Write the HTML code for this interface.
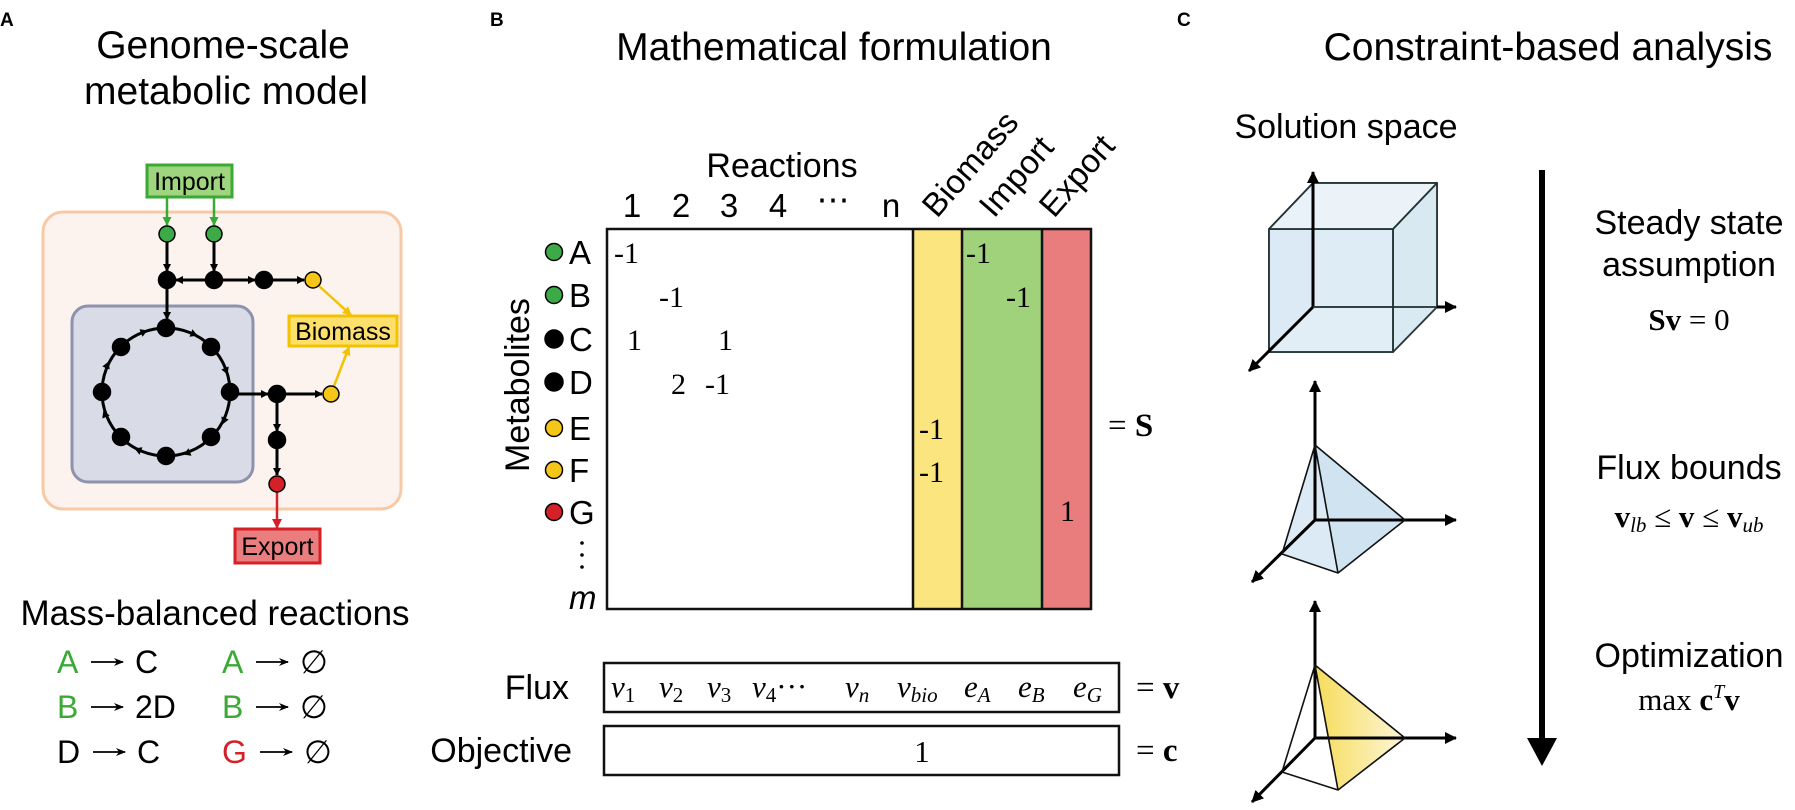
<!DOCTYPE html>
<html><head><meta charset="utf-8"><style>
html,body{margin:0;padding:0;background:#fff}
svg{display:block}
.s{font-family:"Liberation Sans",sans-serif}
.m{font-family:"Liberation Serif",serif}
</style></head><body>
<svg width="1795" height="810" viewBox="0 0 1795 810" xmlns="http://www.w3.org/2000/svg">
<defs>
<marker id="ak" markerWidth="8" markerHeight="8" refX="7" refY="4" orient="auto" markerUnits="userSpaceOnUse"><path d="M0,0 L8,4 L0,8 z" fill="#000"/></marker>
<marker id="ag" markerWidth="9" markerHeight="9" refX="8" refY="4.5" orient="auto" markerUnits="userSpaceOnUse"><path d="M0,0 L9,4.5 L0,9 z" fill="#3aaa35"/></marker>
<marker id="ay" markerWidth="9" markerHeight="9" refX="8" refY="4.5" orient="auto" markerUnits="userSpaceOnUse"><path d="M0,0 L9,4.5 L0,9 z" fill="#f2c200"/></marker>
<marker id="ar" markerWidth="10" markerHeight="10" refX="9" refY="5" orient="auto" markerUnits="userSpaceOnUse"><path d="M0,0 L10,5 L0,10 z" fill="#d42027"/></marker>
<marker id="ab" markerWidth="12" markerHeight="12" refX="11" refY="6" orient="auto" markerUnits="userSpaceOnUse"><path d="M0,0 L12,6 L0,12 z" fill="#000"/></marker>
<marker id="at" markerWidth="10" markerHeight="8" refX="9" refY="4" orient="auto" markerUnits="userSpaceOnUse"><path d="M0,0 L10,4 L0,8 L3,4 z" fill="#000"/></marker>
<linearGradient id="yg" x1="0" y1="0" x2="1" y2="0"><stop offset="0" stop-color="#f6dc5a"/><stop offset="1" stop-color="#fdf6d8"/></linearGradient>
</defs>

<!-- Panel labels -->
<text x="0" y="26" class="s" font-size="19" font-weight="bold">A</text>
<text x="490" y="26" class="s" font-size="19" font-weight="bold">B</text>
<text x="1177" y="26" class="s" font-size="19" font-weight="bold">C</text>

<!-- Panel A -->
<text x="223" y="58" class="s" font-size="39" text-anchor="middle">Genome-scale</text>
<text x="226" y="104" class="s" font-size="39" text-anchor="middle">metabolic model</text>

<rect x="43" y="212" width="358" height="297" rx="20" fill="#fdf3ee" stroke="#f8c9a5" stroke-width="3"/>
<rect x="72" y="306" width="181" height="176" rx="16" fill="#d9dbe6" stroke="#8e92ad" stroke-width="3"/>

<rect x="147" y="165" width="85" height="32" fill="#9fd57e" stroke="#3aaa35" stroke-width="3"/>
<text x="189.5" y="190" class="s" font-size="25" text-anchor="middle">Import</text>
<rect x="289" y="316" width="108" height="30" fill="#fde06b" stroke="#f2c200" stroke-width="3"/>
<text x="343" y="340" class="s" font-size="25" text-anchor="middle">Biomass</text>
<rect x="235" y="529" width="85" height="34" fill="#ea7d7d" stroke="#d42027" stroke-width="3"/>
<text x="277.5" y="555" class="s" font-size="25" text-anchor="middle">Export</text>

<g stroke-width="2.5" fill="none">
<line x1="167" y1="197" x2="167" y2="225" stroke="#3aaa35" marker-end="url(#ag)"/>
<line x1="214" y1="197" x2="214" y2="225" stroke="#3aaa35" marker-end="url(#ag)"/>
<g stroke="#000" stroke-width="3">
<line x1="167" y1="242" x2="167" y2="271" marker-end="url(#ak)"/>
<line x1="214" y1="242" x2="214" y2="271" marker-end="url(#ak)"/>
<line x1="206" y1="280" x2="176" y2="280" marker-end="url(#ak)"/>
<line x1="222" y1="280" x2="255" y2="280" marker-end="url(#ak)"/>
<line x1="272" y1="280" x2="304" y2="280" marker-end="url(#ak)"/>
<line x1="167" y1="288" x2="167" y2="319" marker-end="url(#ak)"/>
<circle cx="166" cy="392" r="64"/>
<line x1="237" y1="394" x2="268" y2="394" marker-end="url(#ak)"/>
<line x1="285" y1="394" x2="322" y2="394" marker-end="url(#ak)"/>
<line x1="277" y1="402" x2="277" y2="431" marker-end="url(#ak)"/>
<line x1="277" y1="448" x2="277" y2="475" marker-end="url(#ak)"/>
</g>
<line x1="277" y1="492" x2="277" y2="528" stroke="#d42027" marker-end="url(#ar)"/>
<line x1="319" y1="286" x2="351" y2="315" stroke="#f2c200" marker-end="url(#ay)"/>
<line x1="334" y1="386" x2="349" y2="347" stroke="#f2c200" marker-end="url(#ay)"/>
</g>
<g fill="#000">
<path d="M0,-4 L7,0 L0,4z" transform="translate(191,333) rotate(22)"/>
<path d="M0,-4 L7,0 L0,4z" transform="translate(225,368) rotate(68)"/>
<path d="M0,-4 L7,0 L0,4z" transform="translate(225,418) rotate(112)"/>
<path d="M0,-4 L7,0 L0,4z" transform="translate(190,452) rotate(158)"/>
<path d="M0,-4 L7,0 L0,4z" transform="translate(141,451) rotate(202)"/>
<path d="M0,-4 L7,0 L0,4z" transform="translate(106,417) rotate(248)"/>
<path d="M0,-4 L7,0 L0,4z" transform="translate(106,368) rotate(292)"/>
<path d="M0,-4 L7,0 L0,4z" transform="translate(141,333) rotate(338)"/>
</g>
<g stroke="#000" stroke-width="1.5">
<circle cx="167" cy="234" r="8" fill="#3cab47"/>
<circle cx="214" cy="234" r="8" fill="#3cab47"/>
<circle cx="167" cy="280" r="8.5" fill="#000"/>
<circle cx="214" cy="280" r="8.5" fill="#000"/>
<circle cx="264" cy="280" r="8.5" fill="#000"/>
<circle cx="313" cy="280" r="8" fill="#f5c518"/>
<circle cx="166" cy="328" r="8.5" fill="#000"/>
<circle cx="211" cy="347" r="8.5" fill="#000"/>
<circle cx="230" cy="392" r="8.5" fill="#000"/>
<circle cx="211" cy="437" r="8.5" fill="#000"/>
<circle cx="166" cy="456" r="8.5" fill="#000"/>
<circle cx="121" cy="437" r="8.5" fill="#000"/>
<circle cx="102" cy="392" r="8.5" fill="#000"/>
<circle cx="121" cy="347" r="8.5" fill="#000"/>
<circle cx="277" cy="394" r="8.5" fill="#000"/>
<circle cx="331" cy="394" r="8" fill="#f5c518"/>
<circle cx="277" cy="440" r="8.5" fill="#000"/>
<circle cx="277" cy="484" r="8" fill="#d42027"/>
</g>

<text x="215" y="625" class="s" font-size="35" text-anchor="middle">Mass-balanced reactions</text>
<g class="s" font-size="32">
<text x="57" y="673" fill="#3aaa35">A</text><text x="135" y="673">C</text>
<text x="57" y="718" fill="#3aaa35">B</text><text x="135" y="718">2D</text>
<text x="57" y="763">D</text><text x="137" y="763">C</text>
<text x="222" y="673" fill="#3aaa35">A</text>
<text x="222" y="718" fill="#3aaa35">B</text>
<text x="222" y="763" fill="#d42027">G</text>
</g>
<g class="m" font-size="32">
<text x="300" y="673">∅</text><text x="300" y="718">∅</text><text x="304" y="763">∅</text>
</g>
<g stroke="#000" stroke-width="1.8">
<line x1="91" y1="662" x2="123" y2="662" marker-end="url(#at)"/>
<line x1="91" y1="707" x2="123" y2="707" marker-end="url(#at)"/>
<line x1="93" y1="752" x2="125" y2="752" marker-end="url(#at)"/>
<line x1="256" y1="662" x2="288" y2="662" marker-end="url(#at)"/>
<line x1="256" y1="707" x2="288" y2="707" marker-end="url(#at)"/>
<line x1="260" y1="752" x2="292" y2="752" marker-end="url(#at)"/>
</g>

<!-- Panel B -->
<text x="834" y="60" class="s" font-size="39" text-anchor="middle">Mathematical formulation</text>
<text x="782" y="177" class="s" font-size="34" text-anchor="middle">Reactions</text>
<g class="s" font-size="33" text-anchor="middle">
<text x="632" y="217">1</text><text x="681" y="217">2</text><text x="729" y="217">3</text><text x="778" y="217">4</text><text x="833" y="211">⋯</text><text x="891" y="217">n</text>
</g>
<g class="s" font-size="33">
<text transform="translate(937,219) rotate(-49)">Biomass</text>
<text transform="translate(994,219) rotate(-49)">Import</text>
<text transform="translate(1054,219) rotate(-49)">Export</text>
</g>

<rect x="607" y="229" width="306" height="380" fill="#fff"/>
<rect x="913" y="229" width="49" height="380" fill="#fbe57f"/>
<rect x="962" y="229" width="80" height="380" fill="#9fd27b"/>
<rect x="1042" y="229" width="49" height="380" fill="#e97c7c"/>
<g stroke="#111" stroke-width="2.5" fill="none">
<rect x="607" y="229" width="484" height="380"/>
<line x1="913" y1="229" x2="913" y2="609"/>
<line x1="962" y1="229" x2="962" y2="609"/>
<line x1="1042" y1="229" x2="1042" y2="609"/>
</g>

<g class="m" font-size="30">
<text x="614" y="263">-1</text>
<text x="659" y="307">-1</text>
<text x="627" y="350">1</text><text x="718" y="350">1</text>
<text x="671" y="394">2</text><text x="705" y="394">-1</text>
<text x="919" y="439">-1</text>
<text x="919" y="482">-1</text>
<text x="966" y="263">-1</text>
<text x="1006" y="307">-1</text>
<text x="1060" y="521">1</text>
</g>

<text transform="translate(529,385) rotate(-90)" class="s" font-size="34" text-anchor="middle">Metabolites</text>
<g stroke="#000" stroke-width="1.5">
<circle cx="554" cy="252" r="8.5" fill="#3cab47"/>
<circle cx="554" cy="295" r="8.5" fill="#3cab47"/>
<circle cx="554" cy="339" r="9" fill="#000"/>
<circle cx="554" cy="382" r="9" fill="#000"/>
<circle cx="554" cy="428" r="8.5" fill="#f5c518"/>
<circle cx="554" cy="470" r="8.5" fill="#f5c518"/>
<circle cx="554" cy="512" r="8.5" fill="#d42027"/>
</g>
<g class="s" font-size="33">
<text x="569" y="264">A</text>
<text x="569" y="307">B</text>
<text x="569" y="351">C</text>
<text x="569" y="394">D</text>
<text x="569" y="440">E</text>
<text x="569" y="482">F</text>
<text x="569" y="524">G</text>
</g>
<g fill="#000"><circle cx="582" cy="543" r="1.8"/><circle cx="582" cy="555" r="1.8"/><circle cx="582" cy="567" r="1.8"/></g>
<text x="569" y="609" class="s" font-size="33" font-style="italic">m</text>
<text x="1108" y="436" class="m" font-size="33">= <tspan font-weight="bold">S</tspan></text>

<rect x="604" y="663" width="515" height="49" fill="#fff" stroke="#111" stroke-width="2.5"/>
<rect x="604" y="726" width="515" height="49" fill="#fff" stroke="#111" stroke-width="2.5"/>
<text x="569" y="699" class="s" font-size="34" text-anchor="end">Flux</text>
<text x="572" y="762" class="s" font-size="34" text-anchor="end">Objective</text>
<g class="m" font-size="31" font-style="italic">
<text x="611" y="697">v<tspan font-size="21" font-style="normal" dy="5">1</tspan></text>
<text x="659" y="697">v<tspan font-size="21" font-style="normal" dy="5">2</tspan></text>
<text x="707" y="697">v<tspan font-size="21" font-style="normal" dy="5">3</tspan></text>
<text x="752" y="697">v<tspan font-size="21" font-style="normal" dy="5">4</tspan><tspan font-style="normal" dy="-5">···</tspan></text>
<text x="845" y="697">v<tspan font-size="21" dy="5">n</tspan></text>
<text x="897" y="697">v<tspan font-size="21" dy="5">bio</tspan></text>
<text x="964" y="697">e<tspan font-size="21" dy="5">A</tspan></text>
<text x="1018" y="697">e<tspan font-size="21" dy="5">B</tspan></text>
<text x="1073" y="697">e<tspan font-size="21" dy="5">G</tspan></text>
</g>
<text x="922" y="762" class="m" font-size="31" text-anchor="middle">1</text>
<text x="1136" y="698" class="m" font-size="33">= <tspan font-weight="bold">v</tspan></text>
<text x="1136" y="761" class="m" font-size="33">= <tspan font-weight="bold">c</tspan></text>

<!-- Panel C -->
<text x="1548" y="60" class="s" font-size="39" text-anchor="middle">Constraint-based analysis</text>
<text x="1346" y="138" class="s" font-size="34" text-anchor="middle">Solution space</text>

<g stroke="#233" stroke-width="1.8" stroke-linejoin="round">
<polygon points="1313,183 1437,183 1437,307 1313,307" fill="#e3eff6"/>
<polygon points="1269,229 1313,183 1313,307 1269,352" fill="#d6e8f2" opacity="0.8"/>
<polygon points="1269,352 1313,307 1437,307 1393,352" fill="#e8f2f8" opacity="0.8"/>
<polygon points="1393,229 1437,183 1437,307 1393,352" fill="#d6e8f2" opacity="0.8"/>
<polygon points="1269,229 1393,229 1393,352 1269,352" fill="#d9eaf4" fill-opacity="0.55"/>
<polygon points="1269,229 1313,183 1437,183 1393,229" fill="#eef5fa" fill-opacity="0.7"/>
</g>
<g stroke="#000" stroke-width="3">
<line x1="1313" y1="307" x2="1313" y2="172" marker-end="url(#ab)"/>
<line x1="1313" y1="307" x2="1249" y2="371" marker-end="url(#ab)"/>
<line x1="1437" y1="307" x2="1456" y2="307" marker-end="url(#ab)"/>
</g>
<line x1="1313" y1="307" x2="1437" y2="307" stroke="#233" stroke-width="1.8"/>

<polygon points="1315,445 1282,554 1338,573 1405,520" fill="#dbeaf4" stroke="none"/>
<polygon points="1315,445 1338,573 1405,520" fill="#cfe3f0"/>
<g stroke="#000" stroke-width="3">
<line x1="1315" y1="520" x2="1315" y2="381" marker-end="url(#ab)"/>
<line x1="1315" y1="520" x2="1252" y2="582" marker-end="url(#ab)"/>
<line x1="1315" y1="520" x2="1456" y2="520" marker-end="url(#ab)"/>
</g>
<g stroke="#111" stroke-width="1.6" fill="none" stroke-linejoin="round">
<polyline points="1282,554 1315,445 1338,573"/>
<polyline points="1315,445 1405,520 1338,573 1282,554"/>
</g>

<polygon points="1315,665 1405,738 1338,790" fill="url(#yg)"/>
<g stroke="#000" stroke-width="3">
<line x1="1315" y1="738" x2="1315" y2="601" marker-end="url(#ab)"/>
<line x1="1315" y1="738" x2="1252" y2="802" marker-end="url(#ab)"/>
<line x1="1315" y1="738" x2="1456" y2="738" marker-end="url(#ab)"/>
</g>
<g stroke="#111" stroke-width="1.6" fill="none" stroke-linejoin="round">
<polyline points="1282,772 1315,665 1338,790"/>
<polyline points="1315,665 1405,738 1338,790 1282,772"/>
</g>

<line x1="1542" y1="170" x2="1542" y2="740" stroke="#000" stroke-width="6"/>
<polygon points="1527,738 1557,738 1542,766" fill="#000"/>

<g class="s" font-size="34" text-anchor="middle">
<text x="1689" y="234">Steady state</text>
<text x="1689" y="276">assumption</text>
<text x="1689" y="479">Flux bounds</text>
<text x="1689" y="667">Optimization</text>
</g>
<g class="m" font-size="31" text-anchor="middle">
<text x="1689" y="330"><tspan font-weight="bold">Sv</tspan> = 0</text>
<text x="1689" y="527"><tspan font-weight="bold">v</tspan><tspan font-style="italic" font-size="21" dy="5">lb</tspan><tspan dy="-5"> ≤ </tspan><tspan font-weight="bold">v</tspan> ≤ <tspan font-weight="bold">v</tspan><tspan font-style="italic" font-size="21" dy="5">ub</tspan></text>
<text x="1689" y="710">max <tspan font-weight="bold">c</tspan><tspan font-style="italic" font-size="20" dy="-12">T</tspan><tspan font-weight="bold" dy="12">v</tspan></text>
</g>
</svg>
</body></html>
